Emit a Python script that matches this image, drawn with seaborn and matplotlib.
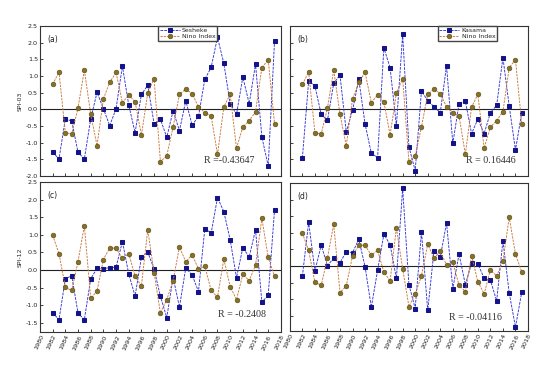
import matplotlib
matplotlib.use('Agg')
import matplotlib.pyplot as plt
import seaborn as sns
import pandas as pd

years = list(range(1982, 2018))

sesheke_spi03 = [-1.29, -1.49, -0.29, -0.35, -1.29, -1.49, -0.29, 0.51, 0.02, -0.49, 0.02, 1.30,
                 0.13, -0.70, 0.45, 0.72, -0.43, -0.30, -0.84, -0.04, -0.64, 0.26, -0.48, -0.21,
                 0.90, 1.26, 2.16, 1.38, 0.17, -0.15, 0.97, 0.17, 1.36, -0.83, -1.70, 2.05]
kasama_spi03 = [-1.46, 0.85, 0.70, -0.15, -0.33, 0.78, 1.03, -0.68, -0.03, 0.90, -0.44, -1.32,
                -1.45, 1.85, 1.24, -0.49, 2.25, -1.12, -1.84, 0.55, 0.26, 0.08, -0.10, 1.31,
                -1.02, 0.17, 0.25, -0.73, -0.29, -0.73, -0.10, 0.12, 1.55, 0.10, -1.22, -0.10]
nino_03 = [0.75, 1.12, -0.70, -0.74, 0.04, 1.18, -0.15, -1.09, 0.31, 0.81, 1.11, 0.20,
           0.43, 0.23, -0.77, 0.49, 0.92, -1.57, -1.39, -0.53, 0.45, 0.61, 0.47, 0.08,
           -0.10, -0.20, -1.35, 0.07, 0.45, -1.17, -0.53, -0.34, -0.07, 1.25, 1.49, -0.43]

sesheke_spi12 = [-1.21, -1.41, -0.25, -0.16, -1.22, -1.41, -0.25, 0.05, 0.04, 0.07, 0.08, 0.81,
                 -0.11, -0.74, 0.37, 0.51, 0.03, -0.75, -1.35, -0.21, -1.05, 0.06, -0.14, -0.61,
                 1.18, 1.05, 2.06, 1.66, 0.86, -0.22, 0.64, 0.37, 1.15, -0.91, -0.72, 1.72]
kasama_spi12 = [-0.31, 1.32, -0.15, 0.63, 0.01, 0.24, 0.10, 0.43, 0.40, 0.81, -0.02, -1.24,
                -0.13, 0.96, 0.64, -0.37, 2.34, -0.56, -1.28, 1.03, -1.34, 0.46, 0.26, 1.30,
                -0.68, 0.36, -0.56, 0.08, 0.07, -0.37, -0.43, -1.05, 0.76, -0.81, -1.84, -0.79]
nino_12 = [0.99, 0.47, -0.49, -0.58, 0.24, 1.26, -0.80, -0.60, 0.30, 0.63, 0.62, 0.33,
           0.47, -0.18, -0.45, 1.15, -0.08, -1.22, -0.84, -0.30, 0.66, 0.23, 0.44, 0.03,
           0.11, -0.58, -0.77, 0.31, -0.47, -0.84, -0.12, -0.30, 0.14, 1.47, 0.36, -0.18]

panels = [
    ('(a)', 'Sesheke', sesheke_spi03, nino_03, 'R =-0.43647', 'SPI-03'),
    ('(b)', 'Kasama', kasama_spi03, nino_03, 'R = 0.16446', None),
    ('(c)', 'Sesheke', sesheke_spi12, nino_12, 'R = -0.2408', 'SPI-12'),
    ('(d)', 'Kasama', kasama_spi12, nino_12, 'R = -0.04116', None),
]
year_ticks = list(range(1980, 2019, 2))

sns.set_theme(style='white')
plt.rcParams['font.family'] = ['DejaVu Sans']

fig = plt.figure(figsize=(5.5, 3.72), dpi=100)
positions = [
    [0.0727, 0.527, 0.438, 0.403],
    [0.527, 0.527, 0.433, 0.403],
    [0.0727, 0.1075, 0.438, 0.403],
    [0.527, 0.11, 0.433, 0.398],
]
ylims = [(-2.0, 2.5), (-2.0, 2.5), (-1.76, 2.5), (-1.96, 2.5)]
r_pos = [(0.89, 0.07), (0.95, 0.07), (0.94, 0.09), (0.89, 0.06)]
leg_x = [0.49, 0.62]

blue_line = '#3333d6'
blue_mark = '#14148a'
brown_line = '#c8783c'
brown_mark = '#857226'

for i, (lab, station, sv, nv, rtxt, ylab) in enumerate(panels):
    ax = fig.add_axes(positions[i])
    df = pd.DataFrame({'year': years, 'station': sv, 'nino': nv})
    sns.lineplot(data=df, x='year', y='station', ax=ax, color=blue_line,
                 marker='s', markersize=3.4, markerfacecolor=blue_mark,
                 markeredgecolor=blue_mark, linewidth=0.65,
                 linestyle=(0, (3, 1.2)), label=station, legend=False)
    sns.lineplot(data=df, x='year', y='nino', ax=ax, color=brown_line,
                 marker='o', markersize=3.4, markerfacecolor=brown_mark,
                 markeredgecolor='#5a4a14', markeredgewidth=0.4, linewidth=0.65,
                 linestyle=(0, (2.5, 1.2)), label='Nino Index', legend=False)
    ax.axhline(0, color='#222222', lw=0.8, zorder=0)
    ax.set_xlim(1980, 2018)
    ax.set_ylim(*ylims[i])
    ax.set_xticks(year_ticks)
    yt = [-2.0, -1.5, -1.0, -0.5, 0.0, 0.5, 1.0, 1.5, 2.0, 2.5]
    yt = [v for v in yt if ylims[i][0] - 1e-9 <= v <= ylims[i][1] + 1e-9]
    ax.set_yticks(yt)
    ax.tick_params(direction='in', length=2.5, width=0.6, labelsize=4.6, pad=1.5,
                   colors='#222222', bottom=True, left=True)
    if i in (0, 2):
        ax.set_yticklabels(['%.1f' % v for v in yt])
        ax.set_ylabel(ylab, fontsize=4.5, labelpad=2)
    else:
        ax.set_yticklabels([])
        ax.set_ylabel('')
    if i in (2, 3):
        ax.set_xticklabels([str(y) for y in year_ticks], rotation=65, ha='right',
                           rotation_mode='anchor', fontsize=4.6)
    else:
        ax.set_xticklabels([])
    ax.set_xlabel('')
    for s in ax.spines.values():
        s.set_color('#333333')
        s.set_linewidth(0.8)
    ax.text(0.03, 0.94, lab, transform=ax.transAxes, fontsize=5.5, va='top',
            ha='left', color='#222222')
    ax.text(r_pos[i][0], r_pos[i][1], rtxt, transform=ax.transAxes, fontsize=7.2,
            ha='right', va='bottom', family='Liberation Serif', color='#333333')
    if i in (0, 1):
        ax.legend(loc='upper left', bbox_to_anchor=(leg_x[i], 1.0), fontsize=4.5,
                  frameon=True, fancybox=False, edgecolor='#444444', framealpha=1,
                  borderpad=0.25, handlelength=3.2, labelspacing=0.15,
                  handletextpad=0.4, borderaxespad=0.0)

fig.savefig('out.png', dpi=100)
